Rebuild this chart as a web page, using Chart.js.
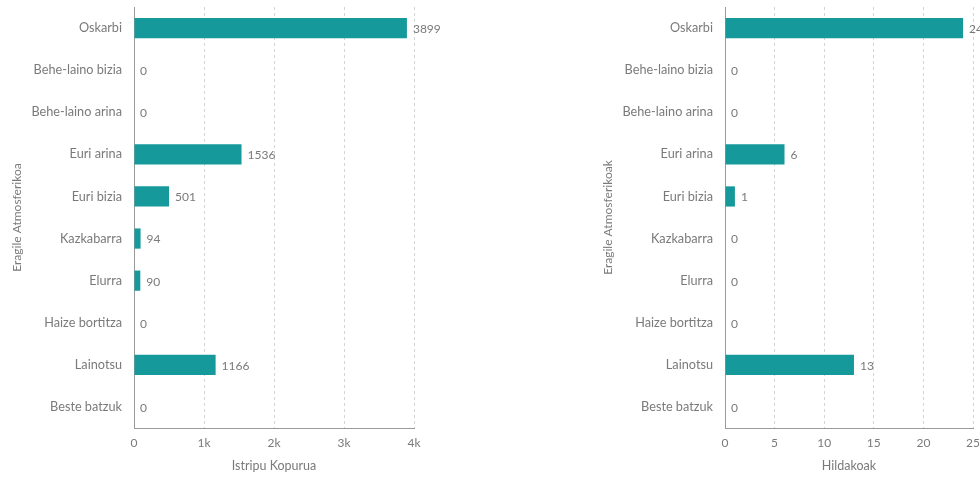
<!DOCTYPE html>
<html>
<head>
<meta charset="utf-8">
<script src="https://cdn.jsdelivr.net/npm/chart.js@4/dist/chart.umd.min.js"></script>
<style>
  html, body { margin: 0; padding: 0; background: #fff; overflow: hidden; width: 980px; height: 477px; }
  .box { position: absolute; top: 0; height: 477px; }
  #left { left: 0; width: 470px; }
  #right { left: 591px; width: 400px; }
</style>
</head>
<body>
<div class="box" id="left"><canvas id="istripuak"></canvas></div>
<div class="box" id="right"><canvas id="hildakoak"></canvas></div>
<script>
// Datuak
const eragileak = ['Oskarbi', 'Behe-laino bizia', 'Behe-laino arina', 'Euri arina', 'Euri bizia',
                   'Kazkabarra', 'Elurra', 'Haize bortitza', 'Lainotsu', 'Beste batzuk'];
const istripuKopurua = [3899, 0, 0, 1536, 501, 94, 90, 0, 1166, 0];
const hildakoak = [24, 0, 0, 6, 1, 0, 0, 0, 13, 0];
const istripuTickak = ['0', '1k', '2k', '3k', '4k'];

const koloreBarra = '#16999b';
const testuKolorea = '#7a7a7a';
Chart.defaults.font.family = 'Lato, "Open Sans", sans-serif';
Chart.defaults.color = testuKolorea;

// balioak barren amaieran idazteko
const balioEtiketak = {
    id: 'balioEtiketak',
    afterDatasetsDraw(chart) {
        const ctx = chart.ctx;
        const meta = chart.getDatasetMeta(0);
        ctx.save();
        ctx.font = '12px Lato, sans-serif';
        ctx.fillStyle = testuKolorea;
        ctx.textAlign = 'left';
        ctx.textBaseline = 'middle';
        meta.data.forEach(function (bar, i) {
            const balioa = chart.data.datasets[0].data[i];
            ctx.fillText(String(balioa), bar.x + 6, bar.y + 1);
        });
        ctx.restore();
    }
};

function sortuGrafikoa(canvasId, datuak, xIzena, yIzena, max, stepSize, tickFormat, eskuina) {
    const ctx = document.getElementById(canvasId).getContext('2d');
    return new Chart(ctx, {
        type: 'bar',
        data: {
            labels: eragileak,
            datasets: [{
                data: datuak,
                backgroundColor: koloreBarra,
                borderWidth: 0,
                barPercentage: 0.8,
                categoryPercentage: 0.6
            }]
        },
        options: {
            indexAxis: 'y',
            responsive: true,
            maintainAspectRatio: false,
            animation: false,
            layout: { padding: { top: 7, right: eskuina, left: 0, bottom: 0 } },
            plugins: { legend: { display: false }, tooltip: { enabled: false } },
            scales: {
                x: {
                    min: 0,
                    max: max,
                    ticks: {
                        stepSize: stepSize,
                        padding: 8,
                        font: { size: 12 },
                        callback: tickFormat
                    },
                    grid: { color: '#d4d4d4', drawTicks: false },
                    border: { color: '#9a9a9a', width: 1, dash: [3, 3] },
                    title: { display: true, text: xIzena, font: { size: 12.5 }, padding: { top: 4, bottom: 4 } },
                    afterFit: function (scale) {
                        scale.height = 49;
                        scale.paddingLeft = 0;
                        scale.paddingRight = 0;
                    }
                },
                y: {
                    ticks: { padding: 12, font: { size: 12.7 } },
                    grid: { display: false, drawTicks: false },
                    border: { color: '#9a9a9a', width: 1 },
                    title: { display: true, text: yIzena, font: { size: 12 }, padding: { top: 10, bottom: 4 } },
                    afterFit: function (scale) {
                        scale.width = 134;
                        scale.paddingTop = 0;
                        scale.paddingBottom = 0;
                    }
                }
            }
        },
        plugins: [balioEtiketak]
    });
}

sortuGrafikoa('istripuak', istripuKopurua, 'Istripu Kopurua', 'Eragile Atmosferikoa', 4000, 1000,
    function (value, index) { return istripuTickak[index]; }, 56);
sortuGrafikoa('hildakoak', hildakoak, 'Hildakoak', 'Eragile Atmosferikoak', 25, 5,
    function (value) { return value; }, 18);
</script>
</body>
</html>
